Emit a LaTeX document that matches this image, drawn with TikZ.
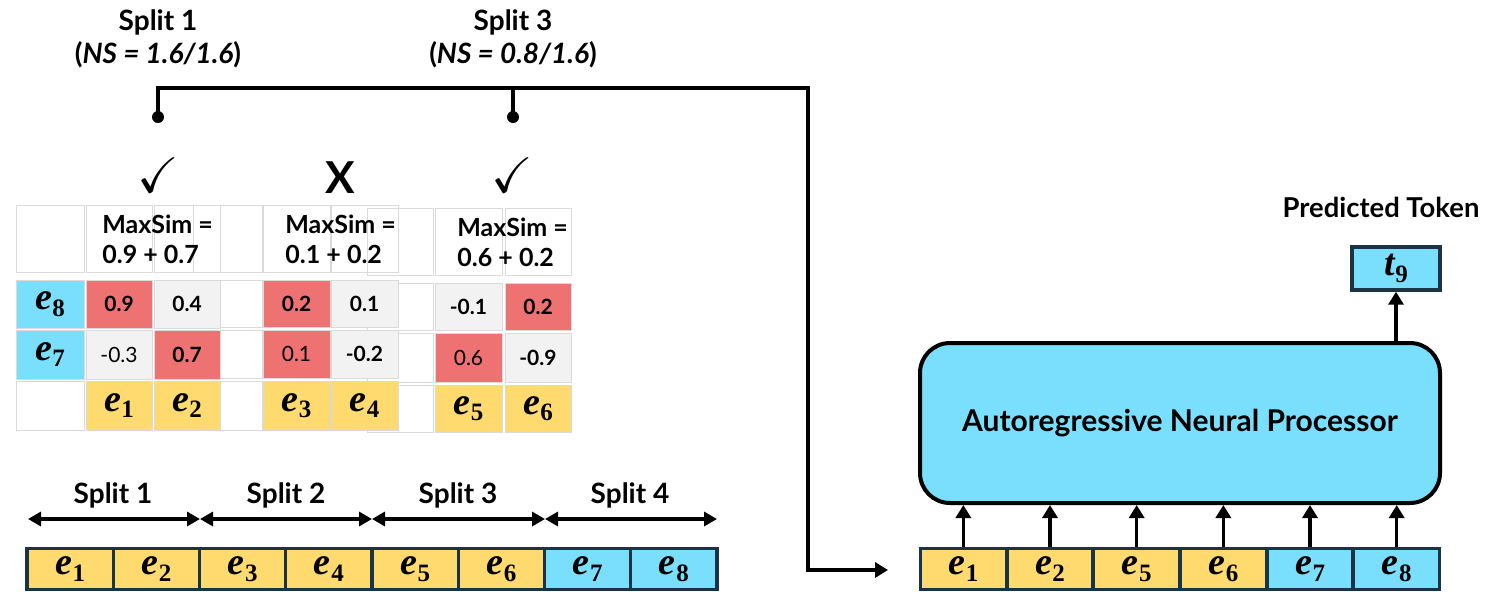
\documentclass[tikz,border=0pt]{standalone}
\usepackage{amssymb}
\usepackage{fontspec}
\setmainfont{Lato}
\newfontfamily\tokfont{Liberation Serif}
\usetikzlibrary{arrows.meta}

\definecolor{tokyellow}{HTML}{FFDA6E}
\definecolor{tokcyan}{HTML}{7ADFFD}
\definecolor{simred}{HTML}{EE7272}
\definecolor{simgray}{HTML}{F2F2F2}
\definecolor{gridline}{HTML}{DADADA}
\definecolor{stripedge}{HTML}{1B3445}

% bold italic symbol with a bold upright index
\newcommand{\sym}[2]{{\tokfont\fontsize{19}{20}\selectfont\bfseries\itshape #1}\kern0.3pt\raisebox{-3.2pt}{\tokfont\fontsize{12.5}{13}\selectfont\bfseries #2}}
\newcommand{\tok}[1]{\sym{e}{#1}}

% one table cell: name, x1, y1, x2, y2, fill, text
\newcommand{\gridcell}[7]{%
  \draw[gridcell,fill=#6] (#2,#3) rectangle (#4,#5);
  \node[celltext] (#1) at ({(#2+#4)/2},{(#3+#5)/2}) {#7};}

\tikzset{
  gridcell/.style={draw=gridline,line width=0.5pt},
  celltext/.style={inner sep=0pt,font=\fontsize{10.5}{12}\selectfont},
  headtext/.style={align=left,inner sep=0pt,font=\bfseries\fontsize{12.5}{15}\selectfont},
  title/.style={align=center,inner sep=0pt,font=\bfseries\fontsize{14}{17}\selectfont},
  wire/.style={line width=1.8pt},
  tip/.style={-{Triangle[length=6.5pt,width=7.5pt]}},
  twotip/.style={{Triangle[length=6.5pt,width=7pt]}-{Triangle[length=6.5pt,width=7pt]}},
  stripcell/.style={draw=stripedge,line width=1.7pt,minimum width=43.1pt,minimum height=20.5pt,inner sep=0pt},
  enddot/.style={circle,fill=black,inner sep=0pt,minimum size=6pt},
  verdict/.style={inner sep=0pt},
}

\begin{document}
\begin{tikzpicture}[x=0.5pt,y=-0.5pt]
\useasboundingbox (0,0) rectangle (1501,591);

% ---- titles of the selected splits
\node[title] (t1a) at (158,22) {Split 1};
\node[title] (t1b) at (158,55) {(\textit{NS = 1.6/1.6})};
\node[title] (t3a) at (513,22) {Split 3};
\node[title] (t3b) at (513,55) {(\textit{NS = 0.8/1.6})};

% ---- selection wiring
\node[enddot] (dot1) at (158,117) {};
\node[enddot] (dot3) at (513,117) {};
\coordinate (top1) at (158,88);
\coordinate (hub) at (808,88);
\coordinate (feedin) at (888,570);
\draw[wire,tip] (dot1.center) -- (top1) -- (hub) |- (feedin);
\draw[wire] (dot3.center) -- (dot3.center |- top1);

% ---- verdicts
\node[verdict,font=\fontsize{25}{25}\selectfont] (ok1) at (158,175) {$\checkmark$};
\node[verdict,font=\bfseries\fontsize{22}{22}\selectfont] (no2) at (340,178) {X};
\node[verdict,font=\fontsize{25}{25}\selectfont] (ok3) at (512,175) {$\checkmark$};

% ---- similarity table for split 3 (bottom layer)
\gridcell{m3h0}{367}{208}{433}{275}{none}{}
\gridcell{m3h1}{435}{208}{502}{275}{none}{}
\gridcell{m3h2}{505}{208}{571}{275}{none}{}
\gridcell{m3a0}{367}{283}{433}{330}{white}{}
\gridcell{m3a1}{435}{283}{502}{330}{simgray}{\bfseries -0.1}
\gridcell{m3a2}{505}{283}{571}{330}{simred}{\bfseries 0.2}
\gridcell{m3b0}{367}{333}{433}{382}{white}{}
\gridcell{m3b1}{435}{333}{502}{382}{simred}{0.6}
\gridcell{m3b2}{505}{333}{571}{382}{simgray}{\bfseries -0.9}
\gridcell{m3c0}{367}{385}{433}{432}{white}{}
\gridcell{m3c1}{435}{385}{502}{432}{tokyellow}{\tok{5}}
\gridcell{m3c2}{505}{385}{571}{432}{tokyellow}{\tok{6}}
\node[headtext,anchor=west] (m3head) at (457,242) {MaxSim =\\0.6 + 0.2};

% ---- similarity table for split 2 (middle layer)
\gridcell{m2h0}{193}{205}{262}{272}{none}{}
\gridcell{m2h1}{263}{205}{330}{272}{none}{}
\gridcell{m2h2}{331}{205}{398}{272}{none}{}
\gridcell{m2a0}{193}{280}{262}{327}{white}{}
\gridcell{m2a1}{263}{280}{330}{327}{simred}{\bfseries 0.2}
\gridcell{m2a2}{331}{280}{398}{327}{simgray}{\bfseries 0.1}
\gridcell{m2b0}{193}{330}{262}{378}{white}{}
\gridcell{m2b1}{263}{330}{330}{378}{simred}{0.1}
\gridcell{m2b2}{331}{330}{398}{378}{simgray}{\bfseries -0.2}
\gridcell{m2c0}{193}{381}{262}{430}{white}{}
\gridcell{m2c1}{263}{381}{330}{430}{tokyellow}{\tok{3}}
\gridcell{m2c2}{331}{381}{398}{430}{tokyellow}{\tok{4}}
\node[headtext,anchor=west] (m2head) at (285,239) {MaxSim =\\0.1 + 0.2};

% ---- similarity table for split 1 (top layer)
\gridcell{m1h0}{16}{205}{84}{272}{white}{}
\gridcell{m1h1}{86}{205}{152}{272}{none}{}
\gridcell{m1h2}{154}{205}{220}{272}{none}{}
\gridcell{m1a0}{16}{280}{84}{328}{tokcyan}{\tok{8}}
\gridcell{m1a1}{86}{280}{152}{328}{simred}{\bfseries 0.9}
\gridcell{m1a2}{154}{280}{220}{328}{simgray}{\bfseries 0.4}
\gridcell{m1b0}{16}{330}{84}{379}{tokcyan}{\tok{7}}
\gridcell{m1b1}{86}{330}{152}{379}{simgray}{-0.3}
\gridcell{m1b2}{154}{330}{220}{379}{simred}{\bfseries 0.7}
\gridcell{m1c0}{16}{381}{84}{430}{white}{}
\gridcell{m1c1}{86}{381}{152}{430}{tokyellow}{\tok{1}}
\gridcell{m1c2}{154}{381}{220}{430}{tokyellow}{\tok{2}}
\node[headtext,anchor=west] (m1head) at (102,239) {MaxSim =\\0.9 + 0.7};

% ---- split ranges over the input sequence
\coordinate (b0) at (28,519);
\coordinate (b1) at (200,519);
\coordinate (b2) at (372,519);
\coordinate (b3) at (545,519);
\coordinate (b4) at (717,519);
\draw[wire,twotip] (b0) -- (b1);
\draw[wire,twotip] (b1) -- (b2);
\draw[wire,twotip] (b2) -- (b3);
\draw[wire,twotip] (b3) -- (b4);
\node[title] (sp1) at (113,495) {Split 1};
\node[title] (sp2) at (286,495) {Split 2};
\node[title] (sp3) at (458,495) {Split 3};
\node[title] (sp4) at (630,495) {Split 4};

% ---- full input sequence
\foreach \i/\c in {1/tokyellow,2/tokyellow,3/tokyellow,4/tokyellow,5/tokyellow,6/tokyellow,7/tokcyan,8/tokcyan}
  \node[stripcell,fill=\c] (in\i) at ({27+86.25*(\i-0.5)},569) {\tok{\i}};

% ---- compressed sequence fed to the processor
\foreach \i/\k/\c in {1/1/tokyellow,2/2/tokyellow,3/5/tokyellow,4/6/tokyellow,5/7/tokcyan,6/8/tokcyan}
  \node[stripcell,fill=\c] (sel\i) at ({920+86.67*(\i-0.5)},569) {\tok{\k}};

\node[draw=black,line width=2pt,fill=tokcyan,rounded corners=15pt,
      minimum width=260pt,minimum height=80pt,
      font=\bfseries\fontsize{15}{17}\selectfont] (anp) at (1180,423)
      {Autoregressive Neural Processor};

\foreach \i in {1,...,6}
  \draw[wire,tip] (sel\i.north) -- (sel\i.north |- anp.south);

\node[stripcell,minimum width=44pt,minimum height=21.5pt,fill=tokcyan] (t9) at (1396,268.5) {\sym{t}{9}};
\draw[wire,tip] (anp.north -| t9.south) -- (t9.south);
\node[title,font=\bfseries\fontsize{13.7}{15}\selectfont] (pred) at (1381,207) {Predicted Token};

\end{tikzpicture}
\end{document}
